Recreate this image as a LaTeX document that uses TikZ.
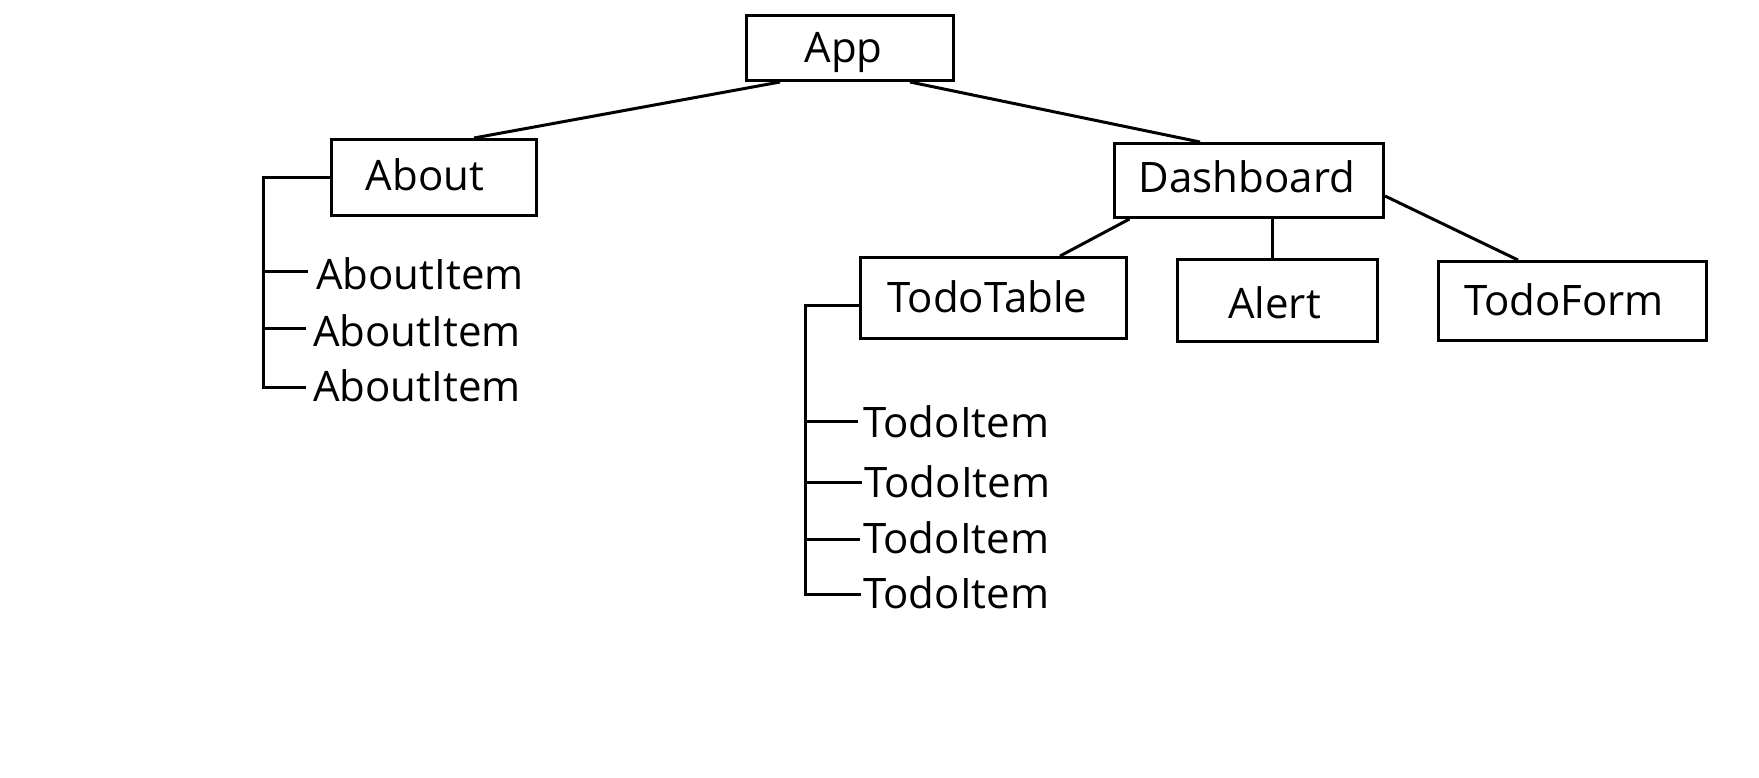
\documentclass[tikz,border=0pt]{standalone}
\usepackage{fontspec}
\setmainfont{Open Sans}
\usetikzlibrary{calc}
\newcommand{\shiftxt}[3]{\raisebox{#2}{\hspace*{#1}#3}}
\begin{document}
\begin{tikzpicture}[x=1pt,y=-1pt,
  txt/.style={font=\fontsize{42}{50}\selectfont,text height=30pt,text depth=0pt},
  box/.style={draw,line width=3pt,inner sep=0pt,txt},
  item/.style={anchor=west,inner sep=0pt,txt},
  conn/.style={line width=3pt}]
\useasboundingbox[fill=white] (0,0) rectangle (1759,777);
% boxes
\node[box,minimum width=207pt,minimum height=65pt] (app) at (850,48) {\shiftxt{-13pt}{0.5pt}{App}};
\node[box,minimum width=205pt,minimum height=76pt] (about) at (434,177.5) {\shiftxt{-18pt}{2.5pt}{About}};
\node[box,minimum width=269pt,minimum height=74pt] (dash) at (1249,180.5) {\shiftxt{-4pt}{3.5pt}{Dashboard}};
\node[box,minimum width=266pt,minimum height=81pt] (tt) at (993.5,298) {\shiftxt{-12pt}{1pt}{TodoTable}};
\node[box,minimum width=200pt,minimum height=82pt] (alert) at (1277.5,300.5) {\shiftxt{-6pt}{-3pt}{Alert}};
\node[box,minimum width=268pt,minimum height=79pt] (form) at (1572.5,301) {\shiftxt{-17pt}{1pt}{TodoForm}};
% about items
\node[item] (ai1) at (316,274) {AboutItem};
\node[item] (ai2) at (313,331) {AboutItem};
\node[item] (ai3) at (313,386) {AboutItem};
% todo items
\node[item] (ti1) at (863,422.5) {TodoItem};
\node[item] (ti2) at (864,482) {TodoItem};
\node[item] (ti3) at (863,538.5) {TodoItem};
\node[item] (ti4) at (863,593.5) {TodoItem};
% tree connectors
\draw[conn] ($(app.south)+(-70,0)$) -- ($(about.north)+(40,0)$);
\draw[conn] ($(app.south)+(60,0)$) -- ($(dash.north)+(-49,0)$);
\draw[conn] ($(dash.south west)+(16.5,0)$) -- ($(tt.north)+(66.5,0)$);
\draw[conn] ($(dash.south)+(23.5,0)$) -- ($(alert.north)+(-5,0)$);
\draw[conn] ($(dash.east)+(0,15.5)$) -- ($(form.north)+(-54.5,0)$);
% about bracket
\coordinate (abus) at (263.5,177.5);
\draw[conn] (about.west) -- (abus) |- ($(ai3.west)+(-7,1.5)$);
\draw[conn] (abus |- 0,271.5) -- ($(ai1.west)+(-8,-2.5)$);
\draw[conn] (abus |- 0,328.5) -- ($(ai2.west)+(-7,-2.5)$);
% todo bracket
\coordinate (tbus) at (805.5,305.5);
\draw[conn] ($(tt.west)+(0,7.5)$) -- (tbus) |- ($(ti4.west)+(-2,1)$);
\draw[conn] (tbus |- 0,421.5) -- ($(ti1.west)+(-5,-1)$);
\draw[conn] (tbus |- 0,482.5) -- ($(ti2.west)+(-2,0.5)$);
\draw[conn] (tbus |- 0,539.5) -- ($(ti3.west)+(-3,1)$);
\end{tikzpicture}
\end{document}
